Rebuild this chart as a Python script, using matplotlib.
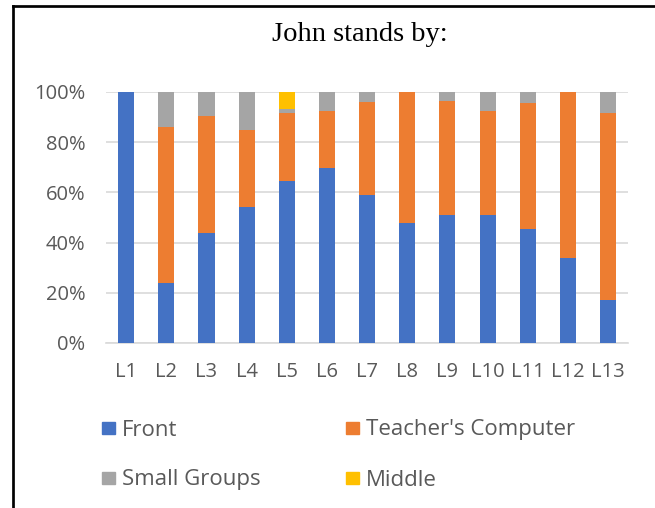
import numpy as np
import matplotlib.pyplot as plt
from matplotlib.lines import Line2D
from matplotlib.patches import Rectangle

lessons = ["L1", "L2", "L3", "L4", "L5", "L6", "L7", "L8", "L9", "L10", "L11", "L12", "L13"]
front = [100, 23.7, 43.9, 54.1, 64.6, 69.6, 59.0, 47.9, 51.0, 51.0, 45.4, 33.7, 17.0]
teacher_computer = [0, 62.2, 46.5, 30.7, 26.9, 22.8, 37.0, 52.1, 45.4, 41.4, 50.1, 66.3, 74.5]
small_groups = [0, 14.1, 9.6, 15.2, 1.8, 7.6, 4.0, 0, 3.6, 7.6, 4.5, 0, 8.5]
middle = [0, 0, 0, 0, 6.7, 0, 0, 0, 0, 0, 0, 0, 0]

series = [("Front", front, "#4472C4"),
          ("Teacher's Computer", teacher_computer, "#ED7D31"),
          ("Small Groups", small_groups, "#A5A5A5"),
          ("Middle", middle, "#FFC000")]

txt = "#595959"
fam = ["Open Sans", "DejaVu Sans"]
W, H = 655, 508

fig = plt.figure(figsize=(6.55, 5.08), dpi=100)
ax = fig.add_axes([0.162, 0.325, 0.797, 0.494])

x = np.arange(len(lessons))
bottom = np.zeros(len(lessons))
for name, vals, col in series:
    v = np.array(vals)
    ax.bar(x, v, 0.4, bottom=bottom, color=col, zorder=3)
    bottom += v

ax.set_xlim(-0.5, 12.5)
ax.set_ylim(0, 100)
ax.set_yticks([0, 20, 40, 60, 80, 100])
ax.set_yticklabels(["0%", "20%", "40%", "60%", "80%", "100%"])
ax.set_xticks(x)
ax.set_xticklabels(lessons)
ax.grid(axis="y", color="#D9D9D9", linewidth=1.2, zorder=0)
for s in ["top", "right", "left"]:
    ax.spines[s].set_visible(False)
ax.spines["bottom"].set_color("#D9D9D9")
ax.spines["bottom"].set_linewidth(1.2)
ax.tick_params(axis="y", length=0, pad=15, labelsize=14.5, labelcolor=txt)
ax.tick_params(axis="x", length=0, pad=14, labelsize=14.5, labelcolor=txt)
for lab in ax.get_xticklabels() + ax.get_yticklabels():
    lab.set_family(fam)

fig.text(0.55, 0.932, "John stands by:", ha="center", va="center",
         fontsize=20.5, family="Liberation Serif", color="black")

# legend, laid out by hand: row 1 Front / Teacher's Computer, row 2 Small Groups / Middle
slots = [(102, 428), (346, 428), (102, 478), (346, 478)]
for (name, vals, col), (px, py) in zip(series, slots):
    fig.add_artist(Rectangle((px / W, 1 - (py + 6) / H), 13 / W, 12 / H,
                             color=col, transform=fig.transFigure))
    fig.text((px + 20) / W, 1 - (py + 2) / H, name, ha="left", va="center",
             fontsize=16, family=fam, color=txt)

# border lines (left and top of the cropped frame)
fig.add_artist(Line2D([0.0206, 0.0206], [0, 0.9878], color="black", lw=1.95, transform=fig.transFigure))
fig.add_artist(Line2D([0.0206, 1], [0.9878, 0.9878], color="black", lw=1.95, transform=fig.transFigure))

fig.savefig("out.png", dpi=100)
